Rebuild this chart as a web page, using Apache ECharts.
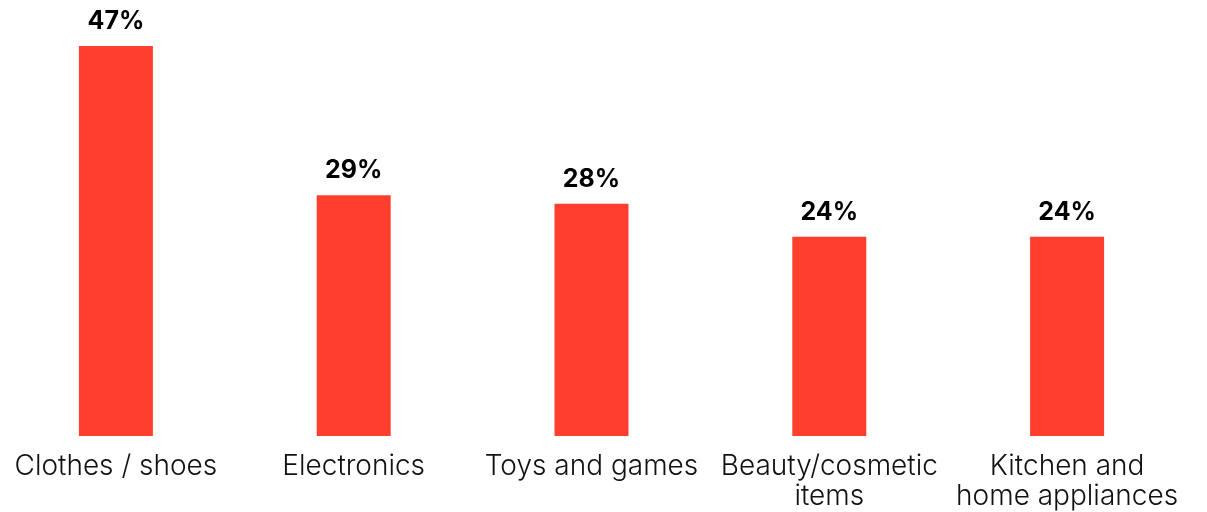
<!DOCTYPE html>
<html><head><meta charset="utf-8">
<script src="https://cdn.jsdelivr.net/npm/echarts@6/dist/echarts.min.js"></script>
<style>html,body{margin:0;padding:0;background:#fff;overflow:hidden}#c{position:absolute;left:-3px;top:0;width:1210px;height:512px}</style>
</head><body><div id="c"></div>
<script>
const categories = ['Clothes / shoes', 'Electronics', 'Toys and games', 'Beauty/cosmetic\nitems', 'Kitchen and\nhome appliances'];
const values = [47, 29, 28, 24, 24];

const chart = echarts.init(document.getElementById('c'));
chart.setOption({
  animation: false,
  grid: { left: 0, width: 1189, top: 46, bottom: 75, containLabel: false },
  xAxis: {
    type: 'category', data: categories,
    axisLine: { show: false }, axisTick: { show: false },
    axisLabel: { interval: 0, color: '#111', fontFamily: 'Inter', fontWeight: 300, fontSize: 28, lineHeight: 30, margin: 16 }
  },
  yAxis: { type: 'value', min: 0, max: 47, show: false, splitLine: { show: false } },
  series: [{
    type: 'bar', data: values, barWidth: 74,
    itemStyle: { color: '#FF3F2E' },
    label: { show: true, position: 'top', distance: 12, formatter: '{c}%', color: '#000', fontFamily: 'Inter', fontWeight: 'bold', fontSize: 25 }
  }]
});
</script></body></html>
